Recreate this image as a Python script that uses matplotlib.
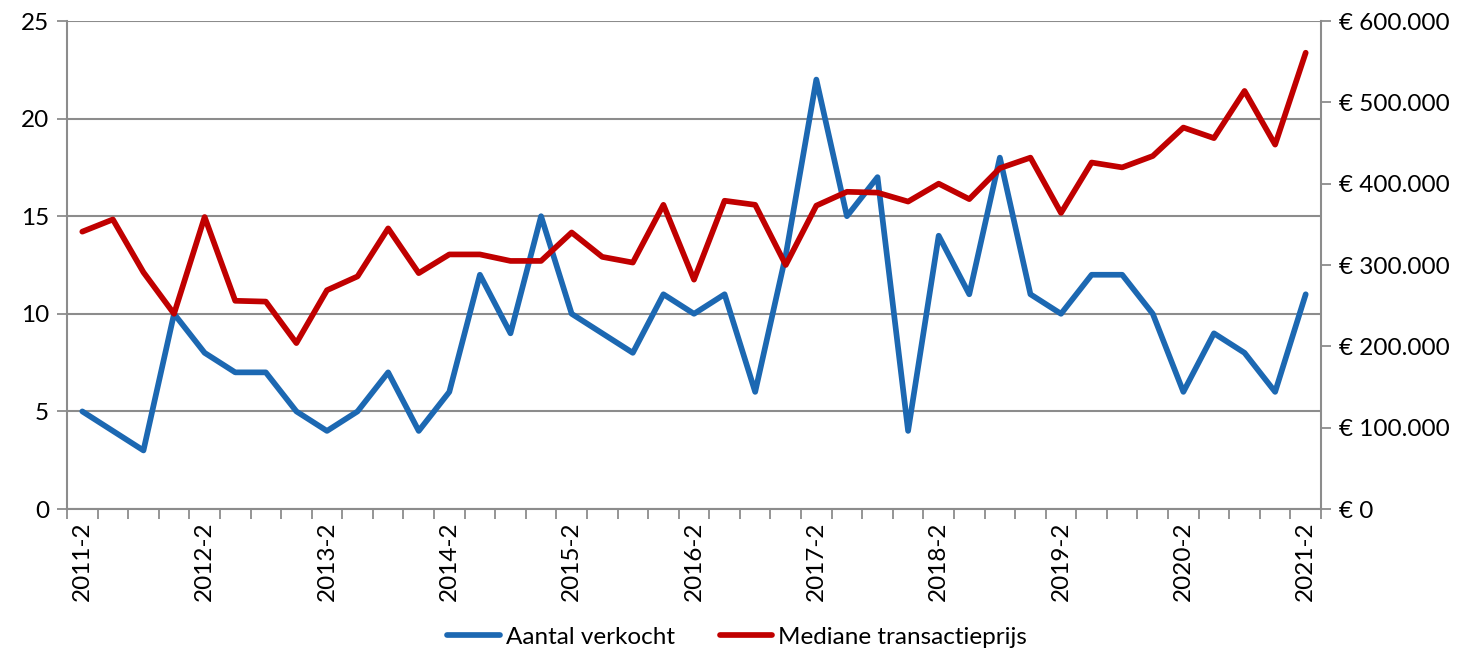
import matplotlib.pyplot as plt
from matplotlib.ticker import FuncFormatter
import numpy as np

plt.rcParams['font.family'] = ['Lato', 'DejaVu Sans']

# quarterly data, 2011-2 .. 2021-2
quarters = []
for year in range(2011, 2022):
    for q in (1, 2, 3, 4):
        if (year == 2011 and q < 2) or (year == 2021 and q > 2):
            continue
        quarters.append(f'{year}-{q}')

aantal_verkocht = [5, 4, 3, 10, 8, 7, 7, 5, 4, 5,
                   7, 4, 6, 12, 9, 15, 10, 9, 8, 11,
                   10, 11, 6, 13, 22, 15, 17, 4, 14, 11,
                   18, 11, 10, 12, 12, 10, 6, 9, 8, 6,
                   11]

mediane_prijs = [341000, 356000, 291000, 240000, 359000, 256000, 255000, 204000, 269000, 286000,
                 345000, 290000, 313000, 313000, 305000, 305000, 340000, 310000, 303000, 374000,
                 282000, 379000, 374000, 300000, 373000, 390000, 389000, 378000, 400000, 381000,
                 419000, 432000, 364000, 426000, 420000, 434000, 469000, 456000, 514000, 448000,
                 561000]

blue = '#1c68b2'
red = '#c00000'
grey = '#8c8c8c'
fs = 17.5

fig = plt.figure(figsize=(14.6, 6.56), dpi=100)
ax = fig.add_axes([67 / 1460, 1 - 509 / 656, (1321 - 67) / 1460, (509 - 21) / 656])
ax2 = ax.twinx()

x = np.arange(len(quarters))
l1, = ax.plot(x, aantal_verkocht, color=blue, lw=4.1, solid_joinstyle='round',
              solid_capstyle='round', label='Aantal verkocht')
l2, = ax2.plot(x, mediane_prijs, color=red, lw=4.1, solid_joinstyle='round',
               solid_capstyle='round', label='Mediane transactieprijs')

ax.set_xlim(-0.5, len(quarters) - 0.5)
ax.set_ylim(0, 25)
ax2.set_ylim(0, 600000)
ax.set_yticks(range(0, 26, 5))
ax2.set_yticks(range(0, 600001, 100000))
ax2.yaxis.set_major_formatter(FuncFormatter(lambda v, p: '€ ' + f'{int(v):,}'.replace(',', '.')))

label_idx = [i for i, q in enumerate(quarters) if q.endswith('-2')]
ax.set_xticks(label_idx)
ax.set_xticklabels([quarters[i] for i in label_idx], rotation=90)
ax.set_xticks(np.arange(-0.5, len(quarters)), minor=True)
ax.tick_params(axis='x', which='major', length=0, pad=9)
ax.tick_params(axis='x', which='minor', length=7, width=1.3, color=grey)

ax.grid(axis='y', color=grey, lw=1.5)
ax.set_axisbelow(True)
for a in (ax, ax2):
    for s in a.spines.values():
        s.set_visible(False)
ax.spines['left'].set_visible(True)
ax.spines['bottom'].set_visible(True)
ax2.spines['right'].set_visible(True)
for s in (ax.spines['left'], ax.spines['bottom'], ax2.spines['right']):
    s.set_color(grey)
    s.set_linewidth(1.5)

ax.tick_params(axis='y', length=7, width=1.3, color=grey, labelsize=fs, pad=6)
ax.tick_params(axis='x', labelsize=fs)
ax2.tick_params(axis='y', length=7, width=1.3, color=grey, labelsize=fs, pad=6)

fig.legend(handles=[l1, l2], loc='center', bbox_to_anchor=(737 / 1460, 1 - 637 / 656),
           ncol=2, frameon=False, fontsize=fs, handlelength=2.15,
           handletextpad=0.25, columnspacing=1.85)

fig.savefig('out.png', dpi=100)
